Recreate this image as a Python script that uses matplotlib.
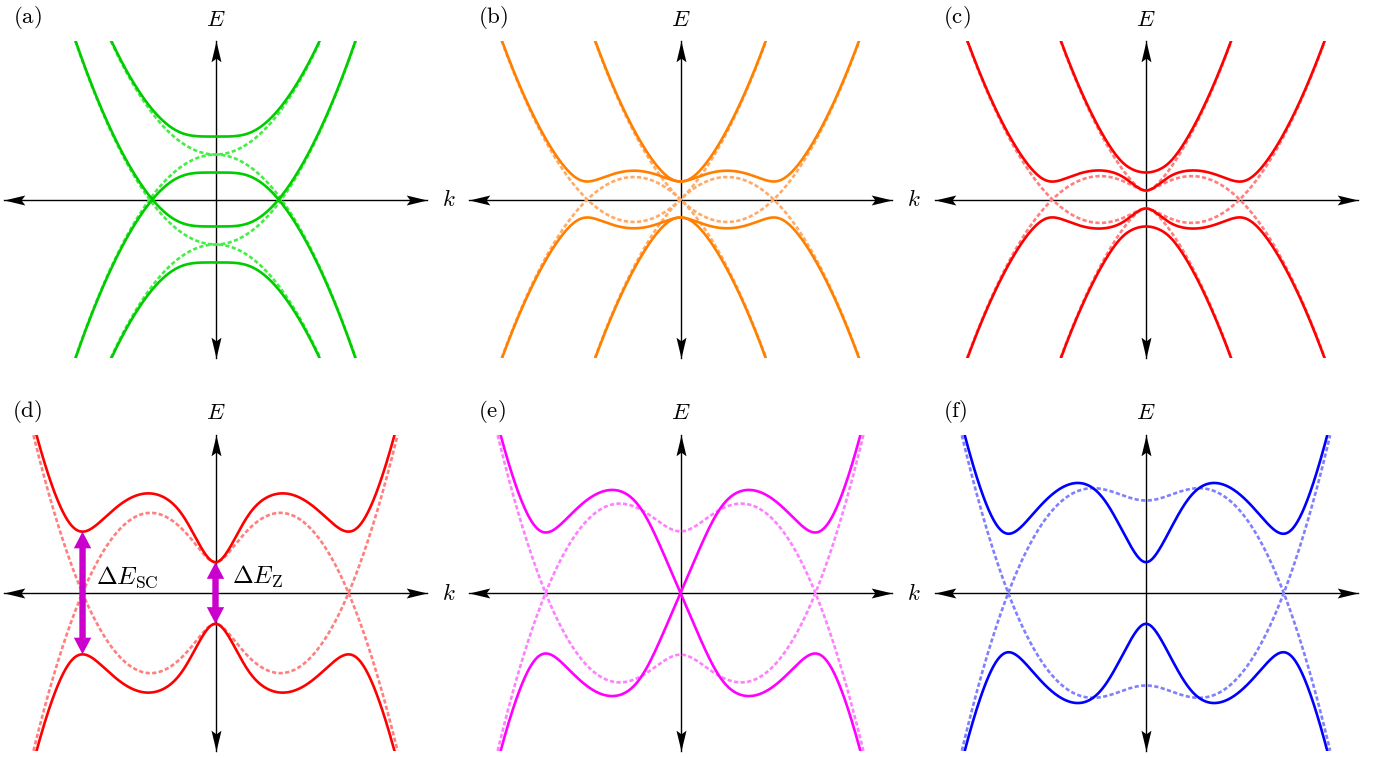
import numpy as np
import matplotlib
matplotlib.use("Agg")
import matplotlib.pyplot as plt
from matplotlib.path import Path
from matplotlib.transforms import Affine2D

plt.rcParams['mathtext.fontset'] = 'cm'

# panel data: nanowire BdG parameters (E_so = 1 units)
panel_labels = ['(a)', '(b)', '(c)', '(d)', '(e)', '(f)']
mu = [0.0, 0.0, 0.0, 0.0, 0.0, 0.0]          # chemical potential
alpha = [0.0, 2.0, 2.0, 2.0, 2.0, 2.0]       # Rashba coupling
vz = [2.0, 0.0, 0.4, 0.4, 0.8, 1.2]          # Zeeman energy
delta = [0.8, 0.8, 0.8, 0.8, 0.8, 0.8]       # superconducting gap
e_max = [7.05, 7.05, 7.05, 2.05, 2.05, 2.05]  # energy window shown
all_bands = [True, True, True, False, False, False]

solid_colors = ['#00cc00', '#ff8000', '#ff0000', '#ff0000', '#ff00ff', '#0000ff']
dashed_colors = ['#44ee44', '#ffaa66', '#ff7f7f', '#ff7f7f', '#ff80ff', '#8080ff']

# layout (pixels)
W, H = 1387, 758
col_x = [215.5, 680.5, 1146.0]
row_y = [199.5, 593.0]
k_scale = [46.6, 66.2]        # px per k unit, per row
half_w = 211.5
half_h = [158.5, 158.0]


def bdg(k, m, a, z, d):
    xi = k ** 2 - m
    root = np.sqrt(z ** 2 * d ** 2 + xi ** 2 * (z ** 2 + (a * k) ** 2))
    base = z ** 2 + d ** 2 + xi ** 2 + (a * k) ** 2
    return np.sqrt(base + 2 * root), np.sqrt(np.clip(base - 2 * root, 0, None))


def normal(k, m, a, z):
    xi = k ** 2 - m
    r = np.sqrt((a * k) ** 2 + z ** 2)
    return xi + r, xi - r


def clip(e, lim):
    e = np.array(e, dtype=float)
    e[np.abs(e) > lim] = np.nan
    return e


def head(angle):
    verts = [(0, 0), (-1, 0.24), (-0.82, 0), (-1, -0.24), (0, 0)]
    codes = [Path.MOVETO, Path.LINETO, Path.LINETO, Path.LINETO, Path.CLOSEPOLY]
    p = Path(verts, codes)
    return p.transformed(Affine2D().rotate_deg(angle))


fig = plt.figure(figsize=(W / 100, H / 100), dpi=100)

for i in range(6):
    r, c = divmod(i, 3)
    ox, oy = col_x[c], row_y[r]
    s = k_scale[r]
    hh = half_h[r]
    t = hh / e_max[i]
    kmax = half_w / s
    ax = fig.add_axes([(ox - half_w) / W, 1 - (oy + hh) / H, 2 * half_w / W, 2 * hh / H])
    ax.set_xlim(-kmax, kmax)
    ax.set_ylim(-e_max[i], e_max[i])
    ax.axis('off')

    # coordinate axes with stealth heads
    ax.plot([-kmax, kmax], [0, 0], color='black', lw=1.0, clip_on=False, zorder=1)
    ax.plot([0, 0], [-e_max[i], e_max[i]], color='black', lw=1.0, clip_on=False, zorder=1)
    for (x, y, ang) in [(kmax, 0, 0), (-kmax, 0, 180), (0, e_max[i], 90), (0, -e_max[i], 270)]:
        ax.plot([x], [y], marker=head(ang), markersize=30, color='black',
                markeredgewidth=0, clip_on=False, zorder=5)

    k = np.linspace(-kmax, kmax, 6001)
    ep, em = normal(k, mu[i], alpha[i], vz[i])
    Ep, Em = bdg(k, mu[i], alpha[i], vz[i], delta[i])
    if all_bands[i]:
        dashed = [ep, em, -ep, -em]
        solid = [Ep, Em, -Ep, -Em]
    else:
        dashed = [em, -em]
        solid = [Em, -Em]
    for e in dashed:
        ax.plot(k, clip(e, e_max[i]), color=dashed_colors[i], lw=1.9,
                dashes=(1.6, 0.9), zorder=2)
    for e in solid:
        ax.plot(k, clip(e, e_max[i]), color=solid_colors[i], lw=1.9, zorder=3)

    # labels
    ax.text(-203 / s, 182 / t, r'$\mathrm{' + panel_labels[i] + '}$', fontsize=16.5,
            ha='left', va='center')
    ax.text(0, 180.5 / t, r'$E$', fontsize=16.5, ha='center', va='center')
    if c < 2:
        ax.text(233.5 / s, 0, r'$k$', fontsize=16.5, ha='center', va='center')

    if i == 3:
        sel = k < -1.5
        k_sc = k[sel][np.nanargmin(Em[sel])]
        e_sc = Em[sel].min()
        e_z = bdg(np.array([0.0]), mu[i], alpha[i], vz[i], delta[i])[1][0]
        style = 'simple,head_length=12,head_width=12.5,tail_width=4.6'
        for kx, ey in [(k_sc, e_sc), (0.0, e_z)]:
            for sign in (1, -1):
                ax.annotate('', xy=(kx, sign * ey), xytext=(kx, 0),
                            arrowprops=dict(arrowstyle=style, mutation_scale=1,
                                            color='#cc00cc', lw=0, shrinkA=0, shrinkB=0),
                            zorder=6)
        ax.text(k_sc + 13 / s, 9 / t, r'$\Delta E_{\mathrm{SC}}$', fontsize=18,
                ha='left', va='baseline')
        ax.text(16 / s, 9 / t, r'$\Delta E_{\mathrm{Z}}$', fontsize=18,
                ha='left', va='baseline')

fig.savefig('out.png', dpi=100)
